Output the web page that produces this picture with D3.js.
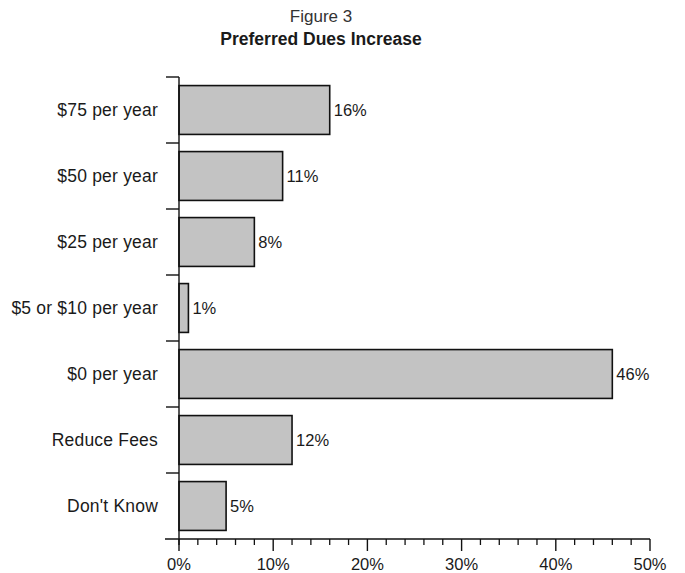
<!DOCTYPE html>
<html>
<head>
<meta charset="utf-8">
<script src="https://cdn.jsdelivr.net/npm/d3@7"></script>
<style>
  html, body { margin: 0; padding: 0; background: #ffffff; }
  svg { display: block; }
  text { font-family: "Liberation Sans", Arial, Helvetica, sans-serif; fill: #1a1a1a; }
</style>
</head>
<body>
<svg id="chart" width="685" height="573"></svg>
<script>
// Survey answers, top to bottom, and the share choosing each one (percent)
const categories = ["$75 per year", "$50 per year", "$25 per year", "$5 or $10 per year",
                    "$0 per year", "Reduce Fees", "Don't Know"];
const shares = [16, 11, 8, 1, 46, 12, 5];
const majorTicks = [0, 10, 20, 30, 40, 50];
const minorTicks = d3.range(0, 51, 2);

const figureLabel = "Figure 3";
const chartTitle = "Preferred Dues Increase";

const svg = d3.select("#chart");
const plotLeft = 179, plotRight = 650, plotTop = 77, plotBottom = 539;

const x = d3.scaleLinear().domain([0, 50]).range([plotLeft, plotRight]);
const y = d3.scaleBand().domain(categories).range([plotTop, plotBottom])
  .paddingInner(0.26).paddingOuter(0.13);

// Titles
svg.append("text").attr("x", 321).attr("y", 22).attr("text-anchor", "middle")
  .style("font-size", "17px").style("fill", "#333").text(figureLabel);
svg.append("text").attr("x", 321).attr("y", 45).attr("text-anchor", "middle")
  .style("font-size", "17.5px").style("font-weight", "bold").text(chartTitle);

// Bars
svg.append("g").selectAll("rect")
  .data(categories)
  .join("rect")
  .attr("x", x(0))
  .attr("y", d => y(d))
  .attr("width", (d, i) => x(shares[i]) - x(0))
  .attr("height", y.bandwidth())
  .attr("fill", "#c3c3c3")
  .attr("stroke", "#111")
  .attr("stroke-width", 1.6);

// Value labels
svg.append("g").selectAll("text")
  .data(categories)
  .join("text")
  .attr("x", (d, i) => x(shares[i]) + 4)
  .attr("y", d => y(d) + y.bandwidth() / 2)
  .attr("dy", "0.35em")
  .style("font-size", "16.5px")
  .text((d, i) => shares[i] + "%");

// Category axis: vertical line with separators between bands
const boundaries = d3.range(categories.length).map(i => y.step() * i + plotTop);
const yAxis = svg.append("g");
yAxis.append("line").attr("x1", plotLeft).attr("x2", plotLeft)
  .attr("y1", plotTop).attr("y2", plotBottom + 6)
  .attr("stroke", "#111").attr("stroke-width", 1.4);
yAxis.selectAll("line.sep")
  .data(boundaries)
  .join("line").attr("class", "sep")
  .attr("x1", plotLeft - 13).attr("x2", plotLeft)
  .attr("y1", d => d).attr("y2", d => d)
  .attr("stroke", "#111").attr("stroke-width", 1.4);
yAxis.selectAll("text")
  .data(categories)
  .join("text")
  .attr("x", plotLeft - 21)
  .attr("y", d => y(d) + y.bandwidth() / 2)
  .attr("dy", "0.35em")
  .attr("text-anchor", "end")
  .style("font-size", "17.5px")
  .style("letter-spacing", "0.2px")
  .text(d => d);

// Value axis
const xAxis = svg.append("g");
xAxis.append("line").attr("x1", plotLeft - 14).attr("x2", plotRight)
  .attr("y1", plotBottom).attr("y2", plotBottom)
  .attr("stroke", "#111").attr("stroke-width", 1.4);
xAxis.selectAll("line.minor")
  .data(minorTicks.filter(v => v % 10 !== 0))
  .join("line").attr("class", "minor")
  .attr("x1", d => x(d)).attr("x2", d => x(d))
  .attr("y1", plotBottom).attr("y2", plotBottom + 6)
  .attr("stroke", "#111").attr("stroke-width", 1.3);
xAxis.selectAll("line.major")
  .data(majorTicks)
  .join("line").attr("class", "major")
  .attr("x1", d => x(d)).attr("x2", d => x(d))
  .attr("y1", plotBottom).attr("y2", plotBottom + 12)
  .attr("stroke", "#111").attr("stroke-width", 1.4);
xAxis.selectAll("text")
  .data(majorTicks)
  .join("text")
  .attr("x", d => x(d))
  .attr("y", 570)
  .attr("text-anchor", "middle")
  .style("font-size", "16.5px")
  .text(d => d + "%");
</script>
</body>
</html>
